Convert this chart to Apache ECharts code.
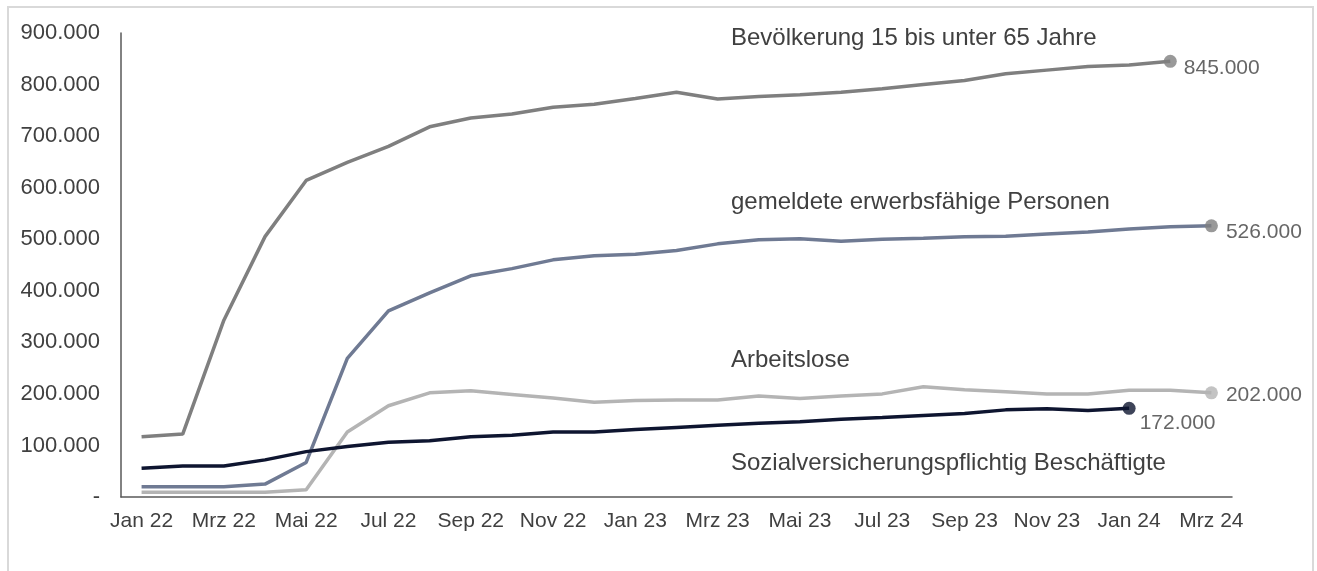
<!DOCTYPE html>
<html>
<head>
<meta charset="utf-8">
<script src="https://cdn.jsdelivr.net/npm/echarts@6/dist/echarts.min.js"></script>
<style>
html,body{margin:0;padding:0;background:#fff;}
#chart{width:1317px;height:571px;}
</style>
</head>
<body>
<div id="chart"></div>
<script>
const months = ['Jan 22','Feb 22','Mrz 22','Apr 22','Mai 22','Jun 22','Jul 22','Aug 22','Sep 22','Okt 22','Nov 22','Dez 22',
  'Jan 23','Feb 23','Mrz 23','Apr 23','Mai 23','Jun 23','Jul 23','Aug 23','Sep 23','Okt 23','Nov 23','Dez 23',
  'Jan 24','Feb 24','Mrz 24'];
const bevoelkerung = [117000,122000,343000,505000,614000,649000,680000,718000,735000,743000,756000,762000,
  773000,785000,772000,777000,780000,785000,792000,800000,808000,821000,828000,835000,838000,845000];
const gemeldete = [20000,20000,20000,25000,67000,269000,361000,396000,429000,443000,460000,468000,
  471000,478000,491000,499000,501000,496000,500000,502000,505000,506000,510000,514000,520000,524000,526000];
const arbeitslose = [9000,9000,9000,9000,14000,126000,177000,202000,206000,199000,192000,184000,
  187000,188000,188000,196000,191000,196000,200000,214000,208000,204000,200000,200000,207000,207000,202000];
const sozial = [56000,60000,60000,72000,88000,98000,106000,109000,117000,120000,126000,126000,
  131000,135000,139000,143000,146000,151000,154000,158000,162000,169000,171000,168000,172000];
const yTicks = {min:0, max:900000, interval:100000};
const seriesNames = ['Bevölkerung 15 bis unter 65 Jahre','gemeldete erwerbsfähige Personen','Arbeitslose','Sozialversicherungspflichtig Beschäftigte'];

const FONT = "'Liberation Sans', Arial, sans-serif";
const TXT = '#404040';
function fmt(v){
  if (v === 0) return '-';
  return String(Math.round(v)).replace(/\B(?=(\d{3})+(?!\d))/g, '.');
}

const defs = [
  {data: bevoelkerung, color:'#7f7f7f', dot:'#7f7f7f', off:[0,7], dist:7},
  {data: gemeldete, color:'#6f7a93', dot:'#7f7f7f', off:[0,6], dist:8},
  {data: arbeitslose, color:'#b4b4b4', dot:'#b4b4b4', off:[0,2], dist:8},
  {data: sozial, color:'#0e1530', dot:'#0e1530', off:[0,15], dist:4}
];

const series = [];
defs.forEach((d, k) => {
  series.push({
    name: seriesNames[k], type:'line', data: d.data, symbol:'none',
    lineStyle:{color:d.color, width:3.5}, itemStyle:{color:d.color},
    z: 3 + k, animation:false
  });
  const li = d.data.length - 1;
  series.push({
    type:'scatter', data:[[months[li], d.data[li]]], symbol:'circle', symbolSize:13,
    itemStyle:{color:d.dot}, z: 10,
    label:{show:true, position:'right', distance:d.dist, offset:d.off,
      formatter: p => fmt(p.value[1]), fontFamily:FONT, fontSize:21, color:TXT},
    animation:false
  });
});

const chart = echarts.init(document.getElementById('chart'), null, {renderer:'canvas'});
const annot = [
  {t: seriesNames[0], y: 38.5},
  {t: seriesNames[1], y: 203},
  {t: seriesNames[2], y: 361},
  {t: seriesNames[3], y: 463.5}
];
chart.setOption({
  backgroundColor:'#ffffff',
  animation:false,
  grid:{left:121, right:85, top:33, bottom:74, containLabel:false},
  xAxis:{
    type:'category', data: months, boundaryGap:true,
    axisLine:{show:true, lineStyle:{color:'#595959', width:1.5}},
    axisTick:{show:false},
    axisLabel:{interval:1, fontFamily:FONT, fontSize:21, color:TXT, margin:14}
  },
  yAxis:{
    type:'value', min:yTicks.min, max:yTicks.max, interval:yTicks.interval,
    axisLine:{show:true, lineStyle:{color:'#595959', width:1.5}},
    axisTick:{show:false},
    splitLine:{show:false},
    axisLabel:{fontFamily:FONT, fontSize:22, color:TXT, margin:21, formatter: fmt}
  },
  series: series,
  graphic: [
    {type:'rect', shape:{x:8, y:7, width:1305, height:600}, style:{fill:'none', stroke:'#d9d9d9', lineWidth:2}, silent:true, z:-1},
    ...annot.map(a => ({
      type:'text', left: 731, top: a.y - 12.5,
      style:{text:a.t, fontFamily:FONT, fontSize:24, fill:TXT, textVerticalAlign:'top'}
    }))
  ]
});
</script>
</body>
</html>
